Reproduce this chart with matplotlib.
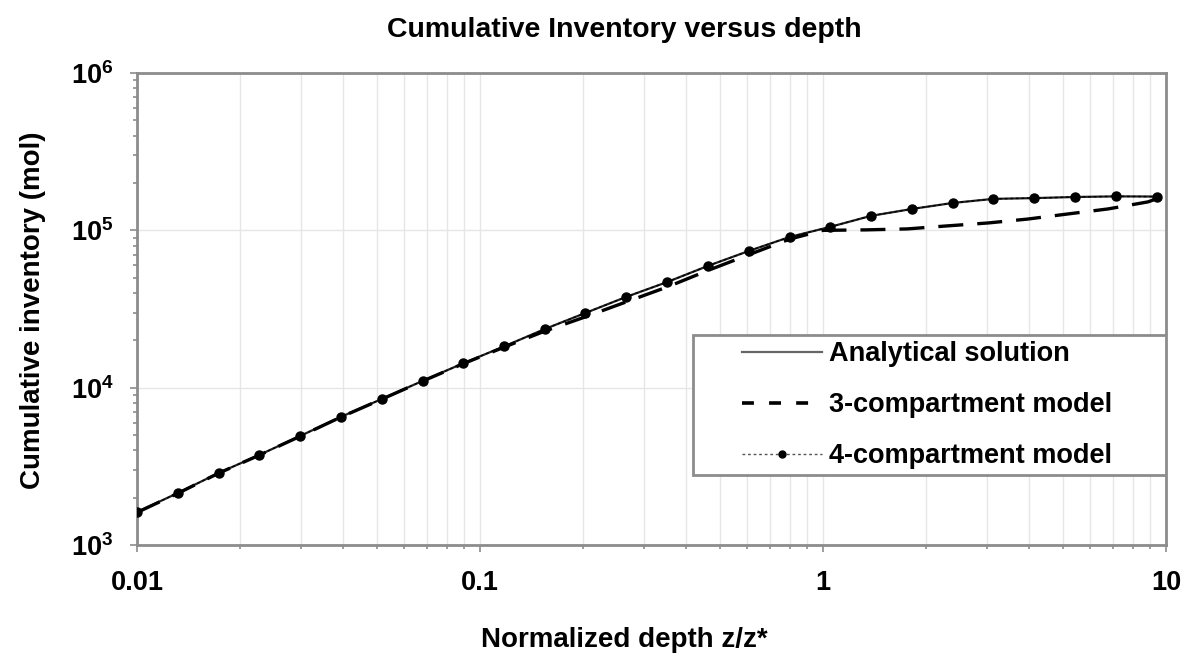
import numpy as np
import matplotlib
matplotlib.use("Agg")
import matplotlib.pyplot as plt
from matplotlib.lines import Line2D
from matplotlib.patches import Rectangle
from matplotlib.ticker import LogLocator, NullFormatter, FixedLocator

plt.rcParams['font.family'] = ['Liberation Sans', 'DejaVu Sans']
plt.rcParams['font.weight'] = 'bold'
plt.rcParams['mathtext.fontset'] = 'custom'
plt.rcParams['mathtext.rm'] = 'Liberation Sans:bold'
plt.rcParams['mathtext.bf'] = 'Liberation Sans:bold'

# normalized depth at the 4-compartment nodes
depth = [0.01, 0.01315, 0.0173, 0.0227, 0.0299, 0.0393, 0.0517, 0.068, 0.0894,
         0.1176, 0.1546, 0.203, 0.267, 0.352, 0.462, 0.608, 0.80, 1.05, 1.38,
         1.82, 2.39, 3.14, 4.13, 5.43, 7.14, 9.39]

# analytical solution (mol)
analytical = [1620, 2140, 2870, 3730, 4930, 6520, 8470, 11040, 14300, 18300,
              23600, 29850, 37760, 46990, 59430, 73960, 90780, 105200, 123600,
              136800, 149300, 158500, 160300, 162900, 164400, 164000]

# 4-compartment model (mol)
four_comp = [1620, 2140, 2870, 3730, 4930, 6520, 8470, 11040, 14300, 18300,
             23600, 29850, 37760, 46990, 59430, 73960, 90780, 105200, 123600,
             136800, 149300, 158500, 160300, 162900, 164400, 163700]

# 3-compartment model (mol)
three_depth = [0.01, 0.01315, 0.0173, 0.0227, 0.0299, 0.0393, 0.0517, 0.068,
               0.0894, 0.1176, 0.1546, 0.203, 0.267, 0.352, 0.462, 0.608, 0.80,
               1.0, 1.34, 1.76, 2.30, 3.03, 3.96, 5.18, 6.78, 8.87, 9.48]
three_comp = [1610, 2130, 2860, 3720, 4910, 6500, 8440, 11000, 14200, 18100,
              22900, 28200, 35100, 43700, 55600, 70000, 88000, 100000, 100700,
              102100, 106700, 111400, 118000, 127100, 136800, 151700, 160000]

fig = plt.figure(figsize=(11.9, 6.6), dpi=100)
ax = fig.add_axes([0.1151, 0.1742, 0.8647, 0.7152])

ax.plot(depth, analytical, color='#222222', lw=1.6, zorder=3)
ax.plot(three_depth, three_comp, color='black', lw=2.4, dashes=(7.5, 4.2), zorder=4)
ax.plot(depth, four_comp, color='black', lw=1.0, ls=(0, (2, 2)),
        marker='o', ms=6.5, zorder=5)

ax.set_xscale('log')
ax.set_yscale('log')
ax.set_xlim(0.01, 10)
ax.set_ylim(1e3, 1e6)

ax.xaxis.set_major_locator(FixedLocator([0.01, 0.1, 1, 10]))
ax.set_xticklabels(['0.01', '0.1', '1', '10'])
ax.xaxis.set_minor_locator(LogLocator(base=10, subs=np.arange(2, 10)))
ax.xaxis.set_minor_formatter(NullFormatter())
ax.yaxis.set_major_locator(FixedLocator([1e3, 1e4, 1e5, 1e6]))
ax.set_yticklabels([r'$10^{3}$', r'$10^{4}$', r'$10^{5}$', r'$10^{6}$'])
ax.yaxis.set_minor_locator(LogLocator(base=10, subs=np.arange(2, 10)))
ax.yaxis.set_minor_formatter(NullFormatter())

ax.grid(True, which='both', axis='x', color='#e6e6e6', lw=1)
ax.grid(True, which='major', axis='y', color='#e6e6e6', lw=1)
ax.set_axisbelow(True)

for s in ax.spines.values():
    s.set_color('#8c8c8c')
    s.set_linewidth(2)
ax.tick_params(which='both', color='#8c8c8c', width=1.2)
ax.tick_params(which='major', length=5)
ax.tick_params(which='minor', length=3)
ax.tick_params(axis='x', which='major', pad=13, labelsize=19.5)
ax.tick_params(axis='y', which='major', pad=12, labelsize=19.5)

fig.text(0.525, 0.955, 'Cumulative Inventory versus depth', ha='center',
         va='center', fontsize=20.5, fontweight='bold')
fig.text(0.525, 0.031, 'Normalized depth z/z*', ha='center', va='center',
         fontsize=20, fontweight='bold')
fig.text(0.028, 0.53, 'Cumulative inventory (mol)', ha='center', va='center',
         rotation=90, fontsize=20, fontweight='bold')

# legend box
ax.add_patch(Rectangle((0.54, 0.148), 0.46, 0.297, transform=ax.transAxes,
                       facecolor='white', edgecolor='#8c8c8c', lw=2, zorder=6))

handles = [
    Line2D([], [], color='#666666', lw=1.6),
    Line2D([], [], color='black', lw=2.6, dashes=(3.3, 4.2)),
    Line2D([], [], color='#555555', lw=1.0, ls=(0, (2, 2)), marker='o', ms=5,
           markerfacecolor='black', markeredgecolor='black'),
]
labels = ['Analytical solution', '3-compartment model', '4-compartment model']
leg = ax.legend(handles, labels, loc='center', bbox_to_anchor=(0.768, 0.2965),
                borderaxespad=0, fontsize=19.5, handlelength=2.95, handletextpad=0.25,
                labelspacing=0.92, borderpad=0.2, frameon=False, numpoints=1)
leg.set_zorder(7)

fig.savefig('out.png', dpi=100)
